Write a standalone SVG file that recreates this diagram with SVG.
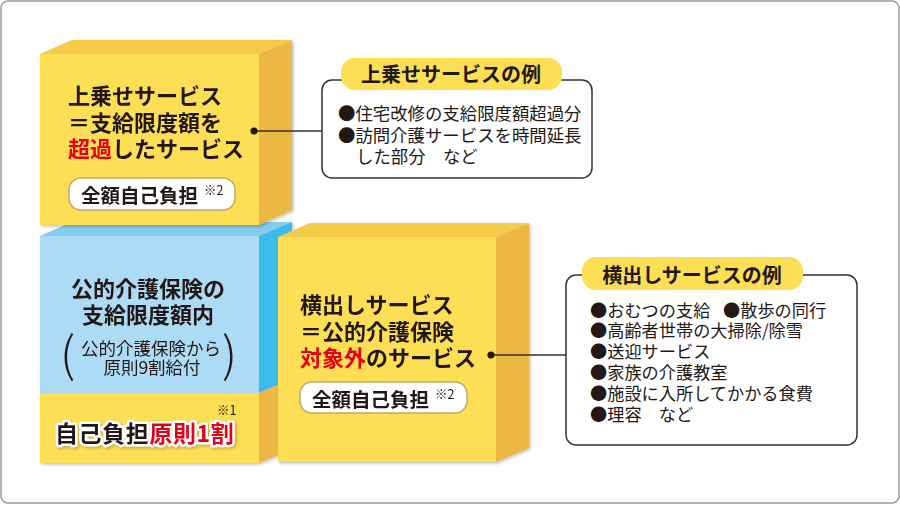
<svg xmlns="http://www.w3.org/2000/svg" width="900" height="505" viewBox="0 0 900 505">
<defs>
<filter id="sh" x="-10%" y="-10%" width="130%" height="130%">
<feDropShadow dx="1.5" dy="1.5" stdDeviation="1.5" flood-color="#000" flood-opacity="0.25"/>
</filter>
<style>
text{font-family:"Noto Sans CJK JP","Noto Sans",sans-serif;fill:#231815}
.front{fill:#fddf55}
.top{fill:#f4cc48}
.side{fill:#ecb742}
.bfront{fill:#acdcf5}
.btop{fill:#84cdf0}
.bside{fill:#3dbcec}
.title{font-size:22px;font-weight:700}
.red{fill:#e60012}
.pill{fill:#fff;stroke:#c2a968;stroke-width:1.5}
.pilltxt{font-size:19.5px;font-weight:700}
.note{font-size:12.5px}
.exbox{fill:#fff;stroke:#333;stroke-width:1.5}
.exhead{fill:#fddf55}
.extitle{font-size:20px;font-weight:700;text-anchor:middle}
.list{font-size:17.4px}
.list2{font-size:17.2px}
.conn{stroke:#333;stroke-width:1.4;fill:none}
.dot{fill:#231815}
</style>
</defs>
<rect x="1" y="1" width="898" height="502" rx="7" fill="#fff" stroke="#9c9c9c" stroke-width="1.5"/>

<g id="node-base" filter="url(#sh)">
<polygon class="btop" points="40,236 72,222 292,222 259,236"/>
<polygon class="bside" points="259,236 292,222 292,379 259,393"/>
<polygon class="side" points="259,393 292,379 292,449 259,463"/>
<rect class="bfront" x="40" y="236" width="219" height="157"/>
<rect class="front" x="40" y="393" width="219" height="70"/>
<text class="title" x="148" y="297" text-anchor="middle" font-size="22.5">公的介護保険の</text>
<text class="title" x="148" y="323" text-anchor="middle" font-size="22.5">支給限度額内</text>
<text x="60" y="372" font-size="48" font-weight="300">(</text>
<text x="151" y="355" text-anchor="middle" font-size="17.5">公的介護保険から</text>
<text x="152" y="374" text-anchor="middle" font-size="17.5">原則9割給付</text>
<text x="222" y="372" font-size="48" font-weight="300">)</text>
<text class="note" x="217" y="415">※1</text>
<text x="55" y="442" font-size="23" font-weight="700" letter-spacing="0.6" stroke="#fff" stroke-width="5" stroke-linejoin="round" paint-order="stroke" filter="url(#sh)">自己負担<tspan class="red">原則1割</tspan></text>
</g>

<g id="node-upper" filter="url(#sh)">
<polygon class="top" points="40,54 72,40 292,40 259,54"/>
<polygon class="side" points="259,54 292,40 292,210 259,225"/>
<rect class="front" x="40" y="54" width="219" height="171"/>
<text class="title" x="68" y="104">上乗せサービス</text>
<text class="title" x="68" y="131">＝支給限度額を</text>
<text class="title" x="68" y="157"><tspan class="red">超過</tspan>したサービス</text>
<rect class="pill" x="69" y="178" width="166" height="32" rx="12"/>
<text class="pilltxt" x="81" y="203">全額自己負担</text>
<text class="note" x="204" y="195">※2</text>
</g>

<g id="node-yokodashi" filter="url(#sh)">
<polygon class="top" points="278,237 310,223 529,223 496,237"/>
<polygon class="side" points="496,237 529,223 529,448 496,462"/>
<rect class="front" x="278" y="237" width="218" height="225"/>
<text class="title" x="300" y="313">横出しサービス</text>
<text class="title" x="300" y="340">＝公的介護保険</text>
<text class="title" x="300" y="366"><tspan class="red">対象外</tspan>のサービス</text>
<rect class="pill" x="300" y="382" width="167" height="31" rx="12"/>
<text class="pilltxt" x="312" y="407">全額自己負担</text>
<text class="note" x="435" y="399">※2</text>
</g>

<g id="connectors">
<line class="conn" x1="254" y1="131" x2="322" y2="131"/>
<circle class="dot" cx="254" cy="131" r="3.6"/>
<line class="conn" x1="491" y1="355" x2="566" y2="355"/>
<circle class="dot" cx="491" cy="355" r="3.6"/>
</g>

<g id="node-upper-examples">
<rect class="exbox" x="322" y="80" width="270" height="98" rx="10"/>
<rect class="exhead" x="341" y="58" width="221" height="32" rx="14"/>
<text class="extitle" x="451" y="82">上乗せサービスの例</text>
<text class="list" x="338" y="120">●住宅改修の支給限度額超過分</text>
<text class="list" x="338" y="142">●訪問介護サービスを時間延長</text>
<text class="list" x="356" y="163">した部分　など</text>
</g>

<g id="node-yoko-examples">
<rect class="exbox" x="566" y="275" width="291" height="170" rx="10"/>
<rect class="exhead" x="582" y="257" width="221" height="33" rx="14"/>
<text class="extitle" x="692" y="283">横出しサービスの例</text>
<text class="list2" x="590" y="317">●おむつの支給<tspan x="723">●散歩の同行</tspan></text>
<text class="list2" x="590" y="337">●高齢者世帯の大掃除/除雪</text>
<text class="list2" x="590" y="358">●送迎サービス</text>
<text class="list2" x="590" y="379">●家族の介護教室</text>
<text class="list2" x="590" y="400">●施設に入所してかかる食費</text>
<text class="list2" x="590" y="421">●理容　など</text>
</g>
</svg>
